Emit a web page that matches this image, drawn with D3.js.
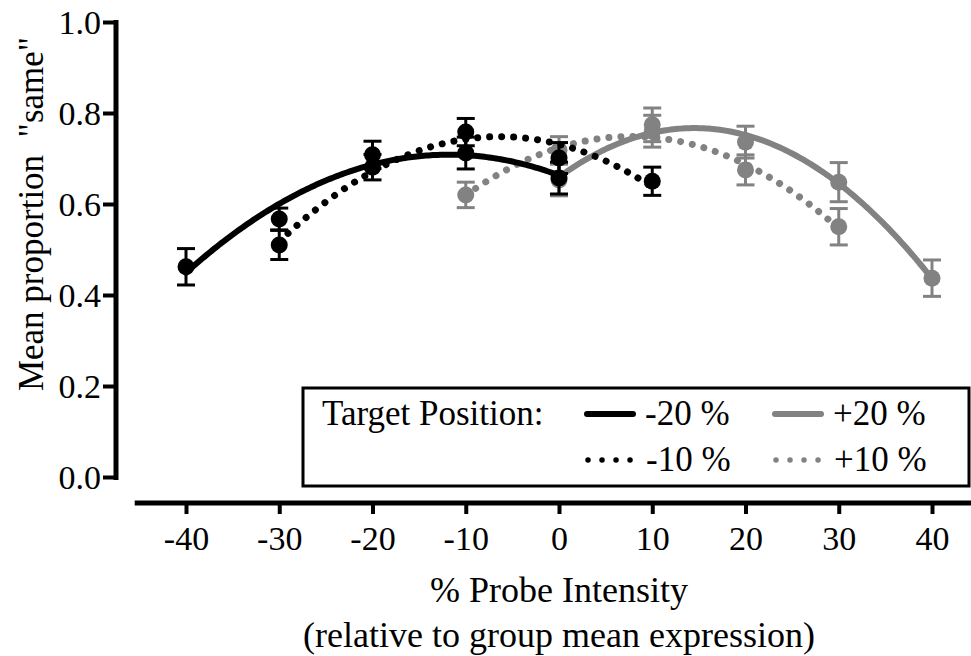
<!DOCTYPE html>
<html>
<head>
<meta charset="utf-8">
<script src="https://cdn.jsdelivr.net/npm/d3@7"></script>
<style>
  html, body { margin: 0; padding: 0; background: #fff; }
  svg { display: block; }
  svg text { font-family: "Liberation Serif", "Times New Roman", serif !important; fill: #000; }
</style>
</head>
<body>
<svg id="chart" width="971" height="656"></svg>
<script>
/* ---------- data ---------- */
const xTicks = [-40, -30, -20, -10, 0, 10, 20, 30, 40];
const yTicks = [0, 0.2, 0.4, 0.6, 0.8, 1.0];

// target position -20 %  (black, solid)
const m20X   = [-40, -30, -20, -10, 0];
const m20Y   = [0.462, 0.567, 0.708, 0.712, 0.657];
const m20Err = [0.040, 0.024, 0.030, 0.035, 0.035];

// target position -10 %  (black, dotted)
const m10X   = [-30, -20, -10, 0, 10];
const m10Y   = [0.510, 0.681, 0.758, 0.701, 0.650];
const m10Err = [0.032, 0.028, 0.030, 0.034, 0.031];

// target position +20 %  (grey, solid)
const p20X   = [0, 10, 20, 30, 40];
const p20Y   = [0.653, 0.774, 0.736, 0.648, 0.437];
const p20Err = [0.035, 0.037, 0.035, 0.043, 0.040];

// target position +10 %  (grey, dotted)
const p10X   = [-10, 0, 10, 20, 30];
const p10Y   = [0.620, 0.718, 0.760, 0.675, 0.550];
const p10Err = [0.028, 0.030, 0.035, 0.033, 0.040];

const BLACK = '#000', GREY = '#828282';

const series = [   // grey first so the black sits on top
  { label: '+10 %', xs: p10X, ys: p10Y, err: p10Err, col: GREY,  dotted: true  },
  { label: '+20 %', xs: p20X, ys: p20Y, err: p20Err, col: GREY,  dotted: false },
  { label: '-10 %', xs: m10X, ys: m10Y, err: m10Err, col: BLACK, dotted: true  },
  { label: '-20 %', xs: m20X, ys: m20Y, err: m20Err, col: BLACK, dotted: false }
];

/* ---------- 2nd order polynomial least squares ---------- */
function quadFit(xs, ys) {
  const S = k => d3.sum(xs, x => Math.pow(x, k));
  const T = k => d3.sum(xs, (x, i) => Math.pow(x, k) * ys[i]);
  const A = [[S(0), S(1), S(2)], [S(1), S(2), S(3)], [S(2), S(3), S(4)]];
  const b = [T(0), T(1), T(2)];
  // gauss elimination
  for (let i = 0; i < 3; i++) {
    for (let j = i + 1; j < 3; j++) {
      const f = A[j][i] / A[i][i];
      for (let k = i; k < 3; k++) A[j][k] -= f * A[i][k];
      b[j] -= f * b[i];
    }
  }
  const c = [0, 0, 0];
  for (let i = 2; i >= 0; i--) {
    let s = b[i];
    for (let k = i + 1; k < 3; k++) s -= A[i][k] * c[k];
    c[i] = s / A[i][i];
  }
  return x => c[0] + c[1] * x + c[2] * x * x;
}

/* ---------- scales ---------- */
const svg = d3.select('#chart');
const x = d3.scaleLinear().domain([-40, 40]).range([186, 932]);
const y = d3.scaleLinear().domain([0, 1]).range([477, 22]);

/* ---------- y axis ---------- */
const yAx = svg.append('g')
  .attr('transform', 'translate(116,0)')
  .call(d3.axisLeft(y).tickValues(yTicks).tickFormat(d3.format('.1f'))
          .tickSize(13).tickSizeOuter(0).tickPadding(2));
yAx.attr('font-family', null);
yAx.select('.domain').attr('stroke', '#000').attr('stroke-width', 5)
  .attr('d', `M0,${y(1) - 2}V${y(0) + 3}`);
yAx.selectAll('.tick line').attr('stroke', '#000').attr('stroke-width', 4);
yAx.selectAll('.tick text').attr('font-size', 34).attr('dy', '0.34em');

/* ---------- x axis ---------- */
const xAx = svg.append('g')
  .attr('transform', 'translate(0,503)')
  .call(d3.axisBottom(x).tickValues(xTicks).tickFormat(d => String(d))
          .tickSize(11).tickSizeOuter(0).tickPadding(12));
xAx.attr('font-family', null);
xAx.select('.domain').attr('stroke', '#000').attr('stroke-width', 5)
  .attr('d', `M${x(-45.5)},0H971`);
xAx.selectAll('.tick line').attr('stroke', '#000').attr('stroke-width', 4);
xAx.selectAll('.tick text').attr('font-size', 34);

/* ---------- axis titles ---------- */
svg.append('text')
  .attr('x', 559).attr('y', 602)
  .attr('text-anchor', 'middle').attr('font-size', 36)
  .text('% Probe Intensity');
svg.append('text')
  .attr('x', 559).attr('y', 647)
  .attr('text-anchor', 'middle').attr('font-size', 36)
  .text('(relative to group mean expression)');
svg.append('text')
  .attr('transform', 'translate(43,214) rotate(-90)')
  .attr('text-anchor', 'middle').attr('font-size', 35)
  .style('white-space', 'pre')
  .text('Mean proportion  "same"');

/* ---------- fits, error bars, points ---------- */
const plot = svg.append('g');
const line = d3.line().x(d => x(d[0])).y(d => y(d[1])).curve(d3.curveLinear);

series.forEach(s => {
  const f = quadFit(s.xs, s.ys);
  const x0 = d3.min(s.xs), x1 = d3.max(s.xs);
  s.fit = d3.range(x0, x1 + 0.001, 0.25).map(v => [v, f(v)]);
});

series.forEach(s => {
  const g = plot.append('g');
  g.append('path')
    .attr('d', line(s.fit))
    .attr('fill', 'none')
    .attr('stroke', s.col)
    .attr('stroke-width', s.dotted ? 7 : 6)
    .attr('stroke-linecap', 'round')
    .attr('stroke-dasharray', s.dotted ? '0.01 12' : null);

  const pts = s.xs.map((v, i) => ({ x: v, y: s.ys[i], e: s.err[i] }));
  const eb = g.selectAll('g.eb').data(pts).enter().append('g')
    .attr('stroke', s.col).attr('stroke-width', 3);
  eb.append('line')
    .attr('x1', d => x(d.x)).attr('x2', d => x(d.x))
    .attr('y1', d => y(d.y + d.e)).attr('y2', d => y(d.y - d.e));
  eb.append('line')
    .attr('x1', d => x(d.x) - 9).attr('x2', d => x(d.x) + 9)
    .attr('y1', d => y(d.y + d.e)).attr('y2', d => y(d.y + d.e));
  eb.append('line')
    .attr('x1', d => x(d.x) - 9).attr('x2', d => x(d.x) + 9)
    .attr('y1', d => y(d.y - d.e)).attr('y2', d => y(d.y - d.e));

  g.selectAll('circle').data(pts).enter().append('circle')
    .attr('cx', d => x(d.x)).attr('cy', d => y(d.y))
    .attr('r', 8.5).attr('fill', s.col);
});

/* ---------- legend ---------- */
const lg = svg.append('g');
lg.append('rect')
  .attr('x', 303).attr('y', 388).attr('width', 666).attr('height', 98)
  .attr('fill', '#fff').attr('stroke', '#000').attr('stroke-width', 3);
lg.append('text').attr('x', 322).attr('y', 425).attr('font-size', 35)
  .text('Target Position:');

const legItems = [
  { s: series[3], lx: 587, ty: 414 },
  { s: series[1], lx: 775, ty: 414 },
  { s: series[2], lx: 588, ty: 460 },
  { s: series[0], lx: 776, ty: 460 }
];
legItems.forEach(it => {
  lg.append('line')
    .attr('x1', it.lx).attr('x2', it.lx + (it.s.dotted ? 44 : 46))
    .attr('y1', it.ty).attr('y2', it.ty)
    .attr('stroke', it.s.col)
    .attr('stroke-width', it.s.dotted ? 5.5 : 6)
    .attr('stroke-linecap', 'round')
    .attr('stroke-dasharray', it.s.dotted ? '0.01 14' : null);
  lg.append('text')
    .attr('x', it.lx + 58).attr('y', it.ty + 11)
    .attr('font-size', 35)
    .text(it.s.label);
});
</script>
</body>
</html>
